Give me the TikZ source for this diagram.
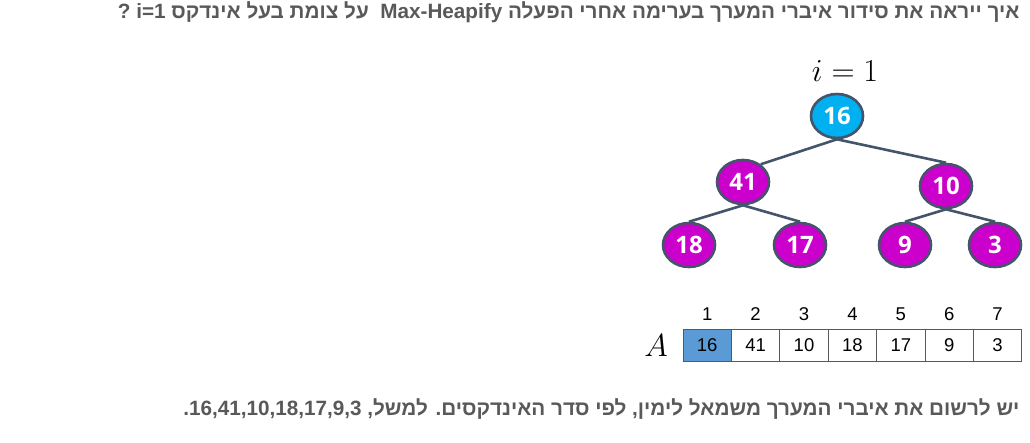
\documentclass[tikz,border=0pt]{standalone}
\usepackage{fix-cm}
\usepackage[no-math]{fontspec}
\setmainfont{Liberation Sans}
\newfontfamily\hebfont[Script=Hebrew]{Liberation Sans}
\newfontfamily\keyfont{Open Sans}
\TeXXeTstate=1
\usepackage{tikz}
\usetikzlibrary{positioning,shapes.geometric,backgrounds}
\definecolor{slate}{HTML}{44546A}
\definecolor{rootblue}{HTML}{00B0F0}
\definecolor{heapmag}{HTML}{CC00CC}
\definecolor{cellblue}{HTML}{5B9BD5}
\definecolor{textgray}{HTML}{595959}

\begin{document}
\begin{tikzpicture}[x=1pt, y=-1pt,
  heapnode/.style={ellipse, draw=slate, line width=2.6pt, fill=heapmag,
    minimum width=52pt, minimum height=44pt, inner sep=0pt,
    text=white, font=\keyfont\bfseries\fontsize{24}{24}\selectfont},
  rootnode/.style={heapnode, fill=rootblue},
  edge/.style={draw=slate, line width=2.6pt},
  cell/.style={draw=black!65, line width=0.9pt, minimum width=48.4pt,
    minimum height=32pt, inner sep=0pt, font=\fontsize{18.5}{18.5}\selectfont},
  idx/.style={font=\fontsize{18.5}{18.5}\selectfont},
  note/.style={text=textgray, font=\hebfont\bfseries\fontsize{20.7}{20.7}\selectfont}
]
\useasboundingbox (0,0) rectangle (1030,443);
% question
\node[note, anchor=east] (question) at (1023,12)
  {\beginR איך ייראה את סידור איברי המערך בערימה אחרי הפעלה \beginL Max-Heapify\endL\ \ על צומת בעל אינדקס \beginL i=1\endL{} ?\endR};
% heap
\node[rootnode] (n16) at (837,116) {16};
\node[heapnode] (n41) at (743,182) {41};
\node[heapnode] (n10) at (946,186) {10};
\node[heapnode] (n18) at (689,245) {18};
\node[heapnode] (n17) at (800,245) {17};
\node[heapnode] (n9)  at (905,245) {9};
\node[heapnode] (n3)  at (995,245) {3};
\node[font=\fontsize{32}{32}\selectfont] (ilabel) at (845,71) {$i=1$};
% edges (behind nodes)
\begin{scope}[on background layer]
\draw[edge] (n16.south) -- (n41.45);
\draw[edge] (n16.south) -- (n10.north);
\draw[edge] (n41.south) -- (n18.north);
\draw[edge] (n41.south) -- (n17.north);
\draw[edge] (n10.south) -- (n9.north);
\draw[edge] (n10.south) -- (n3.north);
\end{scope}
% array
\foreach \v [count=\k] in {16,41,10,18,17,9,3} {
  \node[cell] (c\k) at ({683+48.4*(\k-0.5)},345) {\v};
  \node[idx] (i\k) at ({683+48.4*(\k-0.5)},314) {\k};
}
\begin{scope}[on background layer]
\fill[cellblue] (c1.north west) rectangle (c1.south east);
\end{scope}
\node[font=\fontsize{32}{32}\selectfont] (alabel) at (656,346) {$A$};
% instruction
\node[note, anchor=east] (hint) at (1023,409)
  {\beginR יש לרשום את איברי המערך משמאל לימין, לפי סדר האינדקסים. למשל, \beginL 16,41,10,18,17,9,3\endL.\endR};
\end{tikzpicture}
\end{document}
